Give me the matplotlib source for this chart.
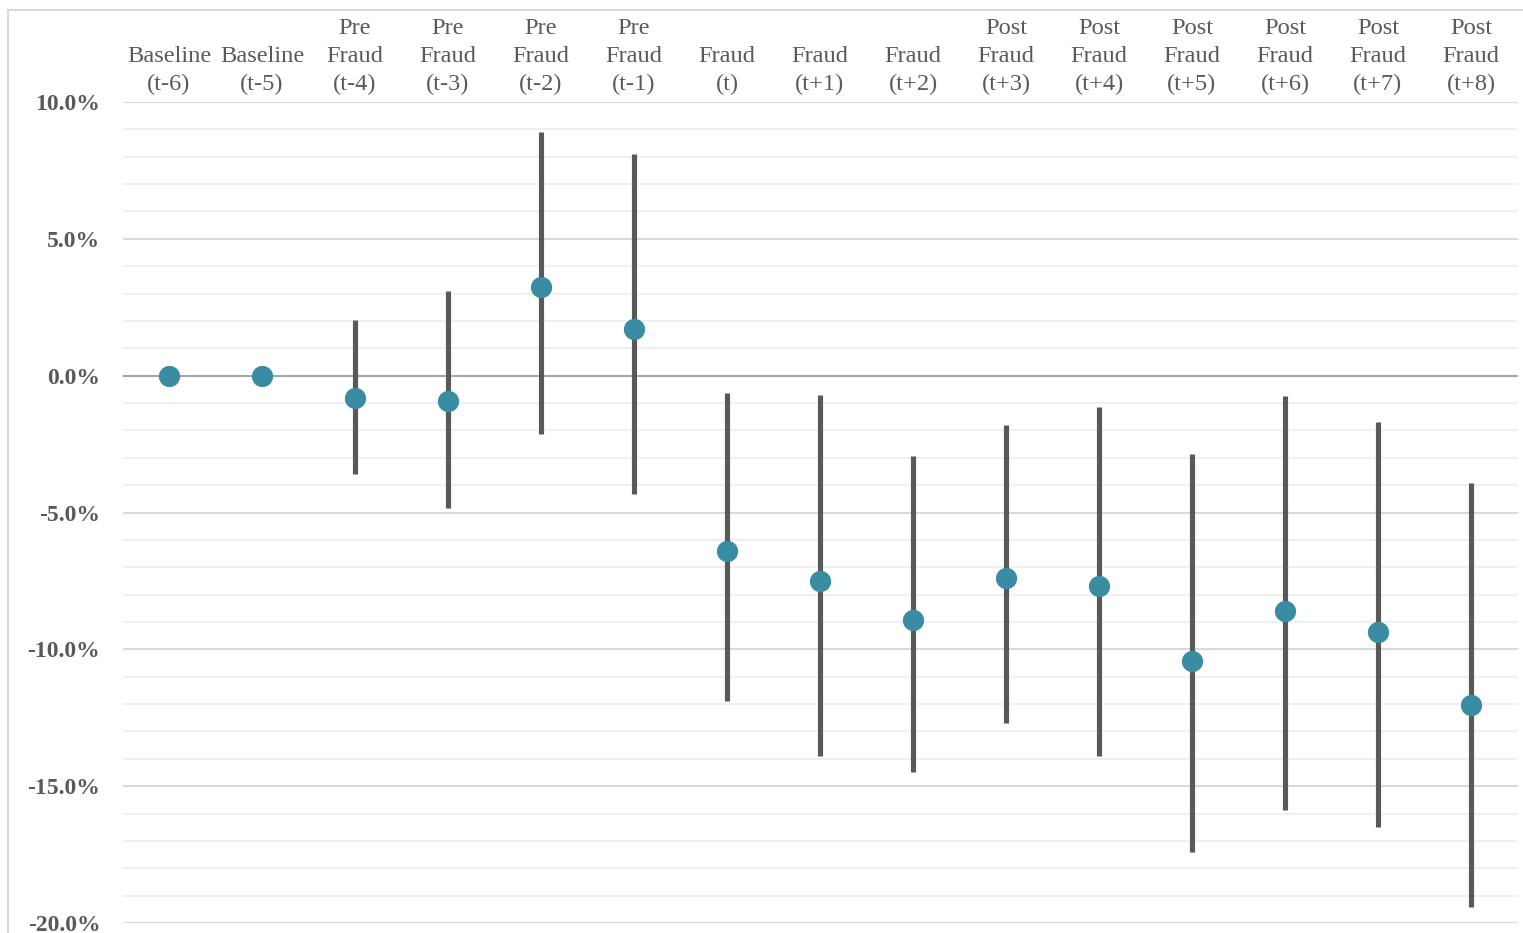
import matplotlib.pyplot as plt
from matplotlib.patches import Rectangle
import numpy as np

# Werte (in %)
labels = ["Baseline\n(t-6)", "Baseline\n(t-5)",
          "Pre\nFraud\n(t-4)", "Pre\nFraud\n(t-3)", "Pre\nFraud\n(t-2)", "Pre\nFraud\n(t-1)",
          "Fraud\n(t)", "Fraud\n(t+1)", "Fraud\n(t+2)",
          "Post\nFraud\n(t+3)", "Post\nFraud\n(t+4)", "Post\nFraud\n(t+5)",
          "Post\nFraud\n(t+6)", "Post\nFraud\n(t+7)", "Post\nFraud\n(t+8)"]
estimate = [0.0, 0.0, -0.80, -0.91, 3.25, 1.72, -6.42, -7.52, -8.91,
            -7.41, -7.70, -10.44, -8.61, -9.38, -12.04]
ci_low = [np.nan, np.nan, -3.61, -4.82, -2.12, -4.31, -11.90, -13.91, -14.49,
          -12.70, -13.91, -17.41, -15.88, -16.50, -19.42]
ci_high = [np.nan, np.nan, 2.04, 3.10, 8.91, 8.10, -0.62, -0.69, -2.92,
           -1.79, -1.13, -2.85, -0.73, -1.68, -3.94]

grau = "#595959"
punkt = "#3A8CA3"

plt.rcParams['font.family'] = ['Liberation Serif', 'DejaVu Serif']

fig = plt.figure(figsize=(15.23, 9.33), dpi=100, facecolor="white")
ax = fig.add_axes([122.5 / 1523, 10 / 933, 1395 / 1523, 821 / 933])

x = np.arange(len(labels))

# Gitterlinien
for v in range(-20, 11):
    if v == 0:
        ax.axhline(v, color="#a6a6a6", lw=1.5, zorder=1)
    elif v % 5 == 0:
        ax.axhline(v, color="#d9d9d9", lw=1.5, zorder=0)
    else:
        ax.axhline(v, color="#f0f0f0", lw=1.5, zorder=0)

ax.vlines(x, ci_low, ci_high, color=grau, lw=3.7, zorder=2)
ax.plot(x, estimate, 'o', color=punkt, markersize=15.3, markeredgewidth=0, zorder=3)

ax.set_xlim(-0.5, len(labels) - 0.5)
ax.set_ylim(-20, 10)
ax.set_yticks(range(-20, 11, 5))
ax.set_yticklabels(["{:.1f}%".format(v) for v in range(-20, 11, 5)],
                   fontsize=17, fontweight="bold", color=grau)
ax.tick_params(axis="y", length=0, pad=16)

ax.xaxis.tick_top()
ax.set_xticks(x)
ax.set_xticklabels(labels, fontsize=17.6, color=grau, linespacing=1.43)
ax.tick_params(axis="x", length=0, pad=5)

for s in ax.spines.values():
    s.set_visible(False)

# Rahmen um das Diagramm
fig.patches.append(Rectangle((8 / 1523, -0.1), 1.2, 1.1 - 10 / 933, transform=fig.transFigure,
                             fill=False, edgecolor="#d9d9d9", lw=1.5, zorder=-1))

fig.savefig("out.png", dpi=100, facecolor="white")
